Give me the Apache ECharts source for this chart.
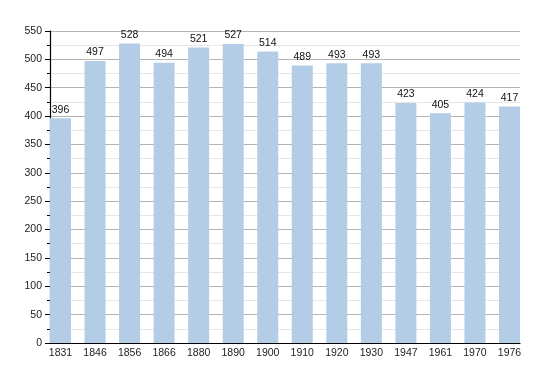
<!DOCTYPE html>
<html><head><meta charset="utf-8">
<script src="https://cdn.jsdelivr.net/npm/echarts@6/dist/echarts.min.js"></script>
<style>html,body{margin:0;padding:0;background:#fff}#c{width:550px;height:373px}</style>
</head><body><div id="c"></div>
<script>
const years = ['1831','1846','1856','1866','1880','1890','1900','1910','1920','1930','1947','1961','1970','1976'];
const population = [396,497,528,494,521,527,514,489,493,493,423,405,424,417];
const yTicks = {min:0, max:550, interval:50};

const chart = echarts.init(document.getElementById('c'), null, {renderer:'canvas'});
const font = 'Liberation Sans, Arial, sans-serif';
chart.setOption({
  animation:false,
  backgroundColor:'#fff',
  grid:[
    {left:50, right:30, top:31, bottom:30},
    {left:60.5, right:40.5, top:31, bottom:30}
  ],
  xAxis:[
    {gridIndex:0, type:'value', min:0, max:1, axisLine:{show:true, onZero:false, lineStyle:{color:'#000', width:1.2}},
     axisTick:{show:false}, axisLabel:{show:false}, splitLine:{show:false}},
    {gridIndex:1, type:'category', data:years, boundaryGap:false,
     axisLine:{show:false}, axisTick:{show:false},
     axisLabel:{color:'#222', fontFamily:font, fontSize:10.5, margin:5}, splitLine:{show:false}}
  ],
  yAxis:[
    {gridIndex:0, type:'value', min:yTicks.min, max:yTicks.max, interval:yTicks.interval,
     axisLine:{show:true, lineStyle:{color:'#000', width:1.2}},
     axisTick:{show:true, length:5, lineStyle:{color:'#000'}},
     minorTick:{show:true, splitNumber:2, length:3, lineStyle:{color:'#000'}},
     axisLabel:{color:'#222', fontFamily:font, fontSize:10.5, margin:8},
     splitLine:{show:true, lineStyle:{color:'#b4b4b4', width:1}},
     minorSplitLine:{show:true, lineStyle:{color:'#e6e6e6', width:1}}},
    {gridIndex:1, type:'value', min:yTicks.min, max:yTicks.max, show:false, splitLine:{show:false}}
  ],
  series:[{
    type:'bar', xAxisIndex:1, yAxisIndex:1, data:population, barWidth:21,
    itemStyle:{color:'#b3cde6'},
    label:{show:true, position:'top', distance:3, color:'#111', fontFamily:font, fontSize:10.5}
  }]
});
</script></body></html>
